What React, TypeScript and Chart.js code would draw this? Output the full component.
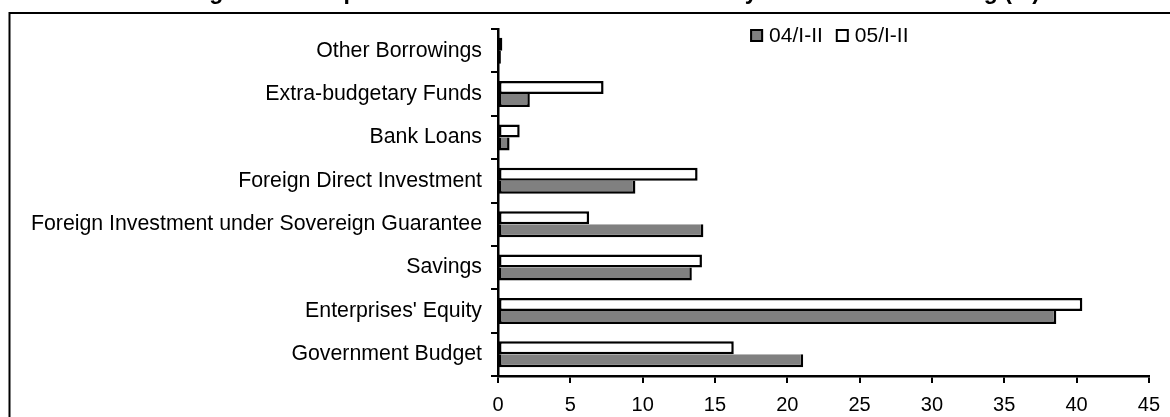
import React, { useEffect, useRef } from "react";
import { Chart, registerables } from "chart.js";

Chart.register(...registerables);

const TITLE = "Figure 3: Components of Fixed Asset Investment by Sources of Financing (%)";

// top -> bottom
const categories = [
  "Other Borrowings",
  "Extra-budgetary Funds",
  "Bank Loans",
  "Foreign Direct Investment",
  "Foreign Investment under Sovereign Guarantee",
  "Savings",
  "Enterprises' Equity",
  "Government Budget",
];

const seriesLabels = ["04/I-II", "05/I-II"];
const values04 = [0.2, 2.2, 0.8, 9.5, 14.2, 13.4, 38.6, 21.1];
const values05 = [0.3, 7.3, 1.5, 13.8, 6.3, 14.1, 40.4, 16.3];

const xMin = 0;
const xMax = 45;
const xStep = 5;

const FONT = '"Liberation Sans", Arial, Helvetica, sans-serif';
const GRAY = "#808080";

const frameTitlePlugin = {
  id: "frameTitle",
  beforeDraw(chart: any) {
    const ctx = chart.ctx;
    ctx.save();
    ctx.fillStyle = "#fff";
    ctx.fillRect(0, 0, chart.width, chart.height);
    ctx.strokeStyle = "#000";
    ctx.lineWidth = 2;
    ctx.strokeRect(9.5, 13, 1400, 600);
    ctx.font = `bold 23px ${FONT}`;
    ctx.fillStyle = "#000";
    ctx.textAlign = "right";
    ctx.textBaseline = "alphabetic";
    ctx.fillText(TITLE, 1040, -1);
    ctx.restore();
  },
};

// Legend drawn inside the plot area, near the top, in Excel style
const insideLegendPlugin = {
  id: "insideLegend",
  afterDraw(chart: any) {
    const ctx = chart.ctx;
    const area = chart.chartArea;
    ctx.save();
    ctx.font = `21px ${FONT}`;
    ctx.textBaseline = "middle";
    ctx.textAlign = "left";
    const box = 13;
    const gap = 6;
    const spacing = 13;
    const items = [
      { label: seriesLabels[0], fill: GRAY },
      { label: seriesLabels[1], fill: "#fff" },
    ];
    const widths = items.map((it) => box + gap + ctx.measureText(it.label).width);
    const total = widths.reduce((a, b) => a + b, 0) + spacing * (items.length - 1);
    const cx = area.left + area.width * 0.509;
    let x = cx - total / 2;
    const yTop = area.top;
    items.forEach((it, i) => {
      ctx.fillStyle = it.fill;
      ctx.fillRect(x, yTop, box, box);
      ctx.strokeStyle = "#000";
      ctx.lineWidth = 2;
      ctx.strokeRect(x + 1, yTop + 1, box - 2, box - 2);
      ctx.fillStyle = "#000";
      ctx.fillText(it.label, x + box + gap, yTop + box / 2 + 1);
      x += widths[i] + spacing;
    });
    ctx.restore();
  },
};

export default function App() {
  const ref = useRef<HTMLCanvasElement | null>(null);

  useEffect(() => {
    if (!ref.current) return;
    const chart = new Chart(ref.current, {
      type: "bar",
      data: {
        labels: categories,
        datasets: [
          {
            label: seriesLabels[1],
            data: values05,
            backgroundColor: "#ffffff",
            borderColor: "#000",
            borderWidth: 2.5,
            borderSkipped: false,
          },
          {
            label: seriesLabels[0],
            data: values04,
            backgroundColor: GRAY,
            borderColor: "#000",
            borderWidth: { top: 0, left: 2.5, right: 2.5, bottom: 2.5 },
            borderSkipped: false,
          },
        ],
      },
      options: {
        indexAxis: "y",
        responsive: false,
        animation: false,
        devicePixelRatio: 1,
        layout: { padding: { left: 0, top: 29, right: 15, bottom: 0 } },
        datasets: { bar: { categoryPercentage: 0.6, barPercentage: 1.0 } },
        scales: {
          y: {
            type: "category",
            offset: true,
            grid: {
              display: true,
              drawOnChartArea: false,
              offset: true,
              tickLength: 7,
              color: "#000",
              lineWidth: 2,
            },
            border: { display: true, color: "#000", width: 2.5 },
            ticks: { color: "#000", font: { family: FONT, size: 21.3 }, padding: 9 },
            afterFit: (s: any) => {
              s.width = 498;
            },
          },
          x: {
            type: "linear",
            min: xMin,
            max: xMax,
            ticks: { stepSize: xStep, color: "#000", font: { family: FONT, size: 20 }, padding: 10 },
            grid: { drawOnChartArea: false, tickLength: 7, color: "#000", lineWidth: 2 },
            border: { display: true, color: "#000", width: 2.5 },
            afterFit: (s: any) => {
              s.height = 41;
            },
          },
        },
        plugins: {
          legend: { display: false },
          tooltip: { enabled: false },
          title: { display: false },
        },
      } as any,
      plugins: [frameTitlePlugin, insideLegendPlugin],
    });
    return () => chart.destroy();
  }, []);

  return (
    <div
      style={{
        position: "fixed",
        left: 0,
        top: 0,
        width: 1170,
        height: 417,
        overflow: "hidden",
        background: "#fff",
      }}
    >
      <canvas ref={ref} width={1170} height={417} style={{ display: "block", width: 1170, height: 417 }} />
    </div>
  );
}
